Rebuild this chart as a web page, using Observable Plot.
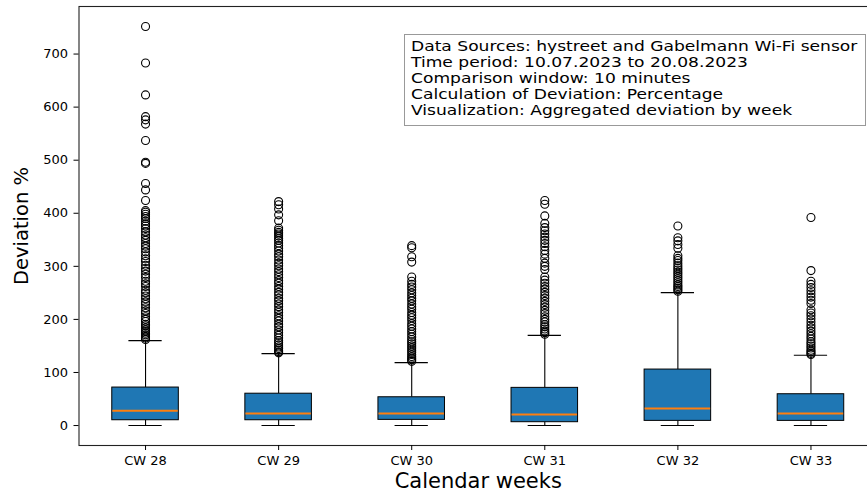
<!DOCTYPE html>
<html><head><meta charset="utf-8">
<script src="https://cdn.jsdelivr.net/npm/d3@7"></script>
<script src="https://cdn.jsdelivr.net/npm/@observablehq/plot@0.6"></script>
<style>
body{margin:0;background:#fff;}
#wrap{position:relative;width:867px;height:493px;overflow:hidden;font-family:"DejaVu Sans",sans-serif;}
#info{position:absolute;left:404px;top:34px;width:462px;height:92px;box-sizing:border-box;border:1px solid #999;background:#fff;}
#info .t{position:absolute;left:6px;top:3px;font-size:14px;line-height:16px;white-space:pre;transform:scaleX(1.222);transform-origin:0 0;color:#000;}
</style></head>
<body><div id="wrap"><div id="info"><div class="t"></div></div></div>
<script>
const weeks = ["CW 28", "CW 29", "CW 30", "CW 31", "CW 32", "CW 33"];
const positions = [1, 2, 3, 4, 5, 6];
const q1 = [10, 10, 10.7, 6.3, 8.8, 8.8];
const medians = [28, 22.6, 22.6, 20.7, 32, 22.6];
const q3 = [71.6, 60, 53.3, 71, 105.5, 59];
const whiskerLow = [0, 0, 0, 0, 0, 0];
const whiskerHigh = [160, 135.6, 118.6, 170, 250.5, 132.4];
const yTicks = [0, 100, 200, 300, 400, 500, 600, 700];

const outliersCW28 = [752, 683, 623, 582, 576, 568, 537, 496, 494, 456, 444, 424, 405, 402, 398, 394, 390, 385, 380, 376, 371, 365, 359, 354, 349, 343, 338, 333, 327, 320, 314, 309, 302, 296, 291, 285, 279, 272, 267, 262, 255, 250, 244, 239, 233, 228, 222, 216, 211, 205, 200, 196, 191, 188, 184, 180, 177, 174, 171, 168, 165, 162];
const outliersCW29 = [422, 416, 408, 397, 386, 372, 368, 364, 361, 357, 353, 349, 344, 339, 334, 329, 323, 318, 312, 306, 301, 295, 290, 284, 279, 273, 268, 262, 257, 251, 246, 240, 235, 229, 224, 218, 213, 207, 202, 197, 191, 186, 180, 175, 170, 165, 160, 156, 152, 148, 145, 142, 139, 137];
const outliersCW30 = [339, 335, 318, 308, 280, 272, 266, 261, 256, 250, 245, 240, 235, 229, 224, 219, 213, 208, 203, 198, 192, 187, 182, 177, 172, 167, 162, 158, 154, 150, 146, 142, 138, 134, 130, 127, 124, 121];
const outliersCW31 = [424, 417, 395, 381, 373, 367, 361, 355, 349, 343, 337, 330, 323, 315, 306, 300, 294, 280, 274, 268, 262, 257, 251, 245, 240, 234, 228, 223, 217, 211, 205, 200, 195, 190, 186, 182, 178, 175, 172];
const outliersCW32 = [376, 354, 348, 341, 334, 320, 315, 311, 306, 301, 297, 293, 289, 285, 281, 277, 273, 269, 265, 262, 259, 256, 253];
const outliersCW33 = [392, 292, 272, 266, 260, 254, 248, 242, 236, 230, 218, 212, 207, 201, 195, 189, 184, 178, 173, 168, 163, 158, 154, 150, 146, 142, 139, 136, 134];

const infoLines = [
  "Data Sources: hystreet and Gabelmann Wi-Fi sensor",
  "Time period: 10.07.2023 to 20.08.2023",
  "Comparison window: 10 minutes",
  "Calculation of Deviation: Percentage",
  "Visualization: Aggregated deviation by week"
];
const xTitle = "Calendar weeks";
const yTitle = "Deviation %";

const boxes = weeks.map((w, i) => ({
  week: w, pos: positions[i], q1: q1[i], median: medians[i], q3: q3[i],
  lo: whiskerLow[i], hi: whiskerHigh[i]
}));
const outlierLists = [outliersCW28, outliersCW29, outliersCW30, outliersCW31, outliersCW32, outliersCW33];
const outliers = outlierLists.flatMap((list, i) => list.map(v => ({pos: positions[i], value: v})));

const boxHalf = 0.25, capHalf = 0.125;

const chart = Plot.plot({
  width: 867,
  height: 493,
  marginLeft: 78.5,
  marginRight: -10,
  marginTop: 6,
  marginBottom: 48,
  style: {fontFamily: "DejaVu Sans", fontSize: "13px", background: "white", color: "black"},
  x: {type: "linear", domain: [0.5, 6.5]},
  y: {domain: [-37.6, 789.6]},
  marks: [
    Plot.ruleX(boxes, {x: "pos", y1: "lo", y2: "q1", stroke: "black", strokeWidth: 1.1}),
    Plot.ruleX(boxes, {x: "pos", y1: "q3", y2: "hi", stroke: "black", strokeWidth: 1.1}),
    Plot.ruleY(boxes, {y: "lo", x1: d => d.pos - capHalf, x2: d => d.pos + capHalf, stroke: "black", strokeWidth: 1.1}),
    Plot.ruleY(boxes, {y: "hi", x1: d => d.pos - capHalf, x2: d => d.pos + capHalf, stroke: "black", strokeWidth: 1.1}),
    Plot.rect(boxes, {x1: d => d.pos - boxHalf, x2: d => d.pos + boxHalf, y1: "q1", y2: "q3", fill: "#1f77b4", stroke: "black", strokeWidth: 1}),
    Plot.ruleY(boxes, {y: "median", x1: d => d.pos - boxHalf + 0.004, x2: d => d.pos + boxHalf - 0.004, stroke: "#ff7f0e", strokeWidth: 2}),
    Plot.dot(outliers, {x: "pos", y: "value", r: 4, stroke: "black", fill: "none", strokeWidth: 1.1}),
    Plot.frame({stroke: "#222", strokeWidth: 1.1}),
    Plot.axisY({ticks: yTicks, tickSize: 5, tickPadding: 6, label: null, fontSize: 13}),
    Plot.axisX({ticks: positions, tickFormat: d => weeks[d - 1], tickSize: 5, tickPadding: 5, label: null, fontSize: 13}),
    Plot.text([xTitle], {frameAnchor: "bottom", lineAnchor: "middle", textAnchor: "middle", dy: 36, fontSize: 21, text: d => d}),
    Plot.text([yTitle], {frameAnchor: "left", lineAnchor: "middle", textAnchor: "middle", rotate: -90, dx: -57, fontSize: 19.5, text: d => d})
  ]
});
const wrap = document.getElementById("wrap");
wrap.insertBefore(chart, wrap.firstChild);
document.querySelector("#info .t").textContent = infoLines.join("\n");
</script>
</body></html>
